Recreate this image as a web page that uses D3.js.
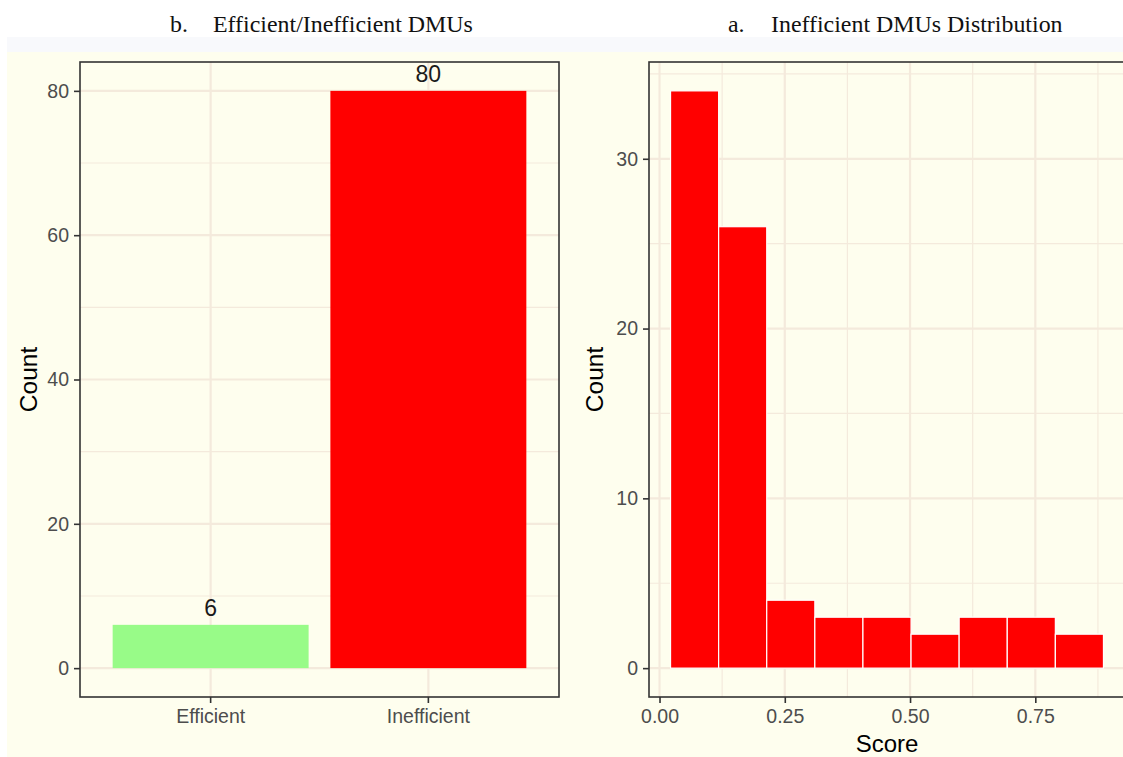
<!DOCTYPE html>
<html>
<head>
<meta charset="utf-8">
<script src="https://cdn.jsdelivr.net/npm/d3@7"></script>
<style>
  body { margin: 0; background: #fff; }
  svg { display: block; }
</style>
</head>
<body>
<div id="chart"></div>
<script>
// data
const categories = ["Efficient", "Inefficient"];
const counts = [6, 80];
const barColors = ["#98fb88", "#ff0000"];

// histogram bins (score edges) and counts
const binEdges = [0.022, 0.118, 0.214, 0.310, 0.406, 0.502, 0.598, 0.694, 0.790, 0.886];
const binCounts = [34, 26, 4, 3, 3, 2, 3, 3, 2];

const leftYTicks = [0, 20, 40, 60, 80];
const leftYMinor = [10, 30, 50, 70];
const rightYTicks = [0, 10, 20, 30];
const rightYMinor = [5, 15, 25, 35];
const scoreTicks = [0, 0.25, 0.5, 0.75];
const scoreMinor = [0.125, 0.375, 0.625, 0.875];

const width = 1123;
const height = 757;
const gridColor = "#f4eadc";
const tickColor = "#4d4d4d";
const borderColor = "#333";

var svg = d3.select("#chart").append("svg")
  .attr("width", width)
  .attr("height", height);

// background strips
svg.append("rect").attr("x", 7).attr("y", 37).attr("width", width - 7).attr("height", 16).attr("fill", "#f8f9fc");
svg.append("rect").attr("x", 7).attr("y", 52).attr("width", width - 7).attr("height", height - 52).attr("fill", "#fefeee");

// titles
var serif = "Liberation Serif, Times New Roman, serif";
var titleBits = [["b.", 170], ["Efficient/Inefficient DMUs", 213], ["a.", 728], ["Inefficient DMUs Distribution", 771]];
svg.selectAll(".title").data(titleBits).enter().append("text")
  .attr("x", d => d[1]).attr("y", 32)
  .attr("font-family", serif).attr("font-size", 23.9).attr("fill", "#111")
  .text(d => d[0]);

const plotTop = 62, plotBottom = 697;
const font = "Liberation Sans, Arial, sans-serif";

// ---------- left panel: bar chart ----------
const L = { left: 80, right: 559 };
var xBand = d3.scaleBand().domain(categories).range([L.left, L.right])
  .paddingInner(0.1).paddingOuter(0.15);
var yLeft = d3.scaleLinear().domain([-4, 84]).range([plotBottom, plotTop]);

var gl = svg.append("g");
gl.selectAll(".minor").data(leftYMinor).enter().append("line")
  .attr("x1", L.left).attr("x2", L.right)
  .attr("y1", d => yLeft(d)).attr("y2", d => yLeft(d))
  .attr("stroke", gridColor).attr("stroke-width", 1.2);
gl.selectAll(".major").data(leftYTicks).enter().append("line")
  .attr("x1", L.left).attr("x2", L.right)
  .attr("y1", d => yLeft(d)).attr("y2", d => yLeft(d))
  .attr("stroke", gridColor).attr("stroke-width", 2.2);
gl.selectAll(".vmajor").data(categories).enter().append("line")
  .attr("x1", d => xBand(d) + xBand.bandwidth() / 2).attr("x2", d => xBand(d) + xBand.bandwidth() / 2)
  .attr("y1", plotTop).attr("y2", plotBottom)
  .attr("stroke", gridColor).attr("stroke-width", 2.2);

gl.selectAll(".bar").data(counts).enter().append("rect")
  .attr("x", (d, i) => xBand(categories[i]))
  .attr("width", xBand.bandwidth())
  .attr("y", d => yLeft(d))
  .attr("height", d => yLeft(0) - yLeft(d))
  .attr("fill", (d, i) => barColors[i]);

gl.selectAll(".lbl").data(counts).enter().append("text")
  .attr("x", (d, i) => xBand(categories[i]) + xBand.bandwidth() / 2)
  .attr("y", d => yLeft(d) - 9)
  .attr("text-anchor", "middle")
  .attr("font-family", font).attr("font-size", 23).attr("fill", "#1a1a1a")
  .text(d => d);

gl.append("rect").attr("x", L.left).attr("y", plotTop)
  .attr("width", L.right - L.left).attr("height", plotBottom - plotTop)
  .attr("fill", "none").attr("stroke", borderColor).attr("stroke-width", 1.6);

var yAxisL = d3.axisLeft(yLeft).tickValues(leftYTicks).tickSize(6).tickPadding(5);
gl.append("g").attr("transform", "translate(" + L.left + ",0)").call(yAxisL);
var xAxisL = d3.axisBottom(xBand).tickSize(6).tickPadding(6);
gl.append("g").attr("transform", "translate(0," + plotBottom + ")").call(xAxisL);

gl.append("text")
  .attr("transform", "translate(28," + ((plotTop + plotBottom) / 2) + ") rotate(-90)")
  .attr("text-anchor", "middle").attr("dominant-baseline", "central")
  .attr("font-family", font).attr("font-size", 24.5).attr("fill", "#000")
  .text("Count");

// ---------- right panel: histogram ----------
const R = { left: 649, right: 1125 };
var xScore = d3.scaleLinear().domain([-0.021, 0.929]).range([R.left, R.right]);
var yRight = d3.scaleLinear().domain([-1.7, 35.7]).range([plotBottom, plotTop]);

var gr = svg.append("g");
gr.selectAll(".minor").data(rightYMinor).enter().append("line")
  .attr("x1", R.left).attr("x2", R.right)
  .attr("y1", d => yRight(d)).attr("y2", d => yRight(d))
  .attr("stroke", gridColor).attr("stroke-width", 1.2);
gr.selectAll(".vminor").data(scoreMinor).enter().append("line")
  .attr("x1", d => xScore(d)).attr("x2", d => xScore(d))
  .attr("y1", plotTop).attr("y2", plotBottom)
  .attr("stroke", gridColor).attr("stroke-width", 1.2);
gr.selectAll(".major").data(rightYTicks).enter().append("line")
  .attr("x1", R.left).attr("x2", R.right)
  .attr("y1", d => yRight(d)).attr("y2", d => yRight(d))
  .attr("stroke", gridColor).attr("stroke-width", 2.2);
gr.selectAll(".vmajor").data(scoreTicks).enter().append("line")
  .attr("x1", d => xScore(d)).attr("x2", d => xScore(d))
  .attr("y1", plotTop).attr("y2", plotBottom)
  .attr("stroke", gridColor).attr("stroke-width", 2.2);

gr.selectAll(".bin").data(binCounts).enter().append("rect")
  .attr("x", (d, i) => xScore(binEdges[i]))
  .attr("width", (d, i) => xScore(binEdges[i + 1]) - xScore(binEdges[i]))
  .attr("y", d => yRight(d))
  .attr("height", d => yRight(0) - yRight(d))
  .attr("fill", "#ff0000").attr("stroke", "#fff").attr("stroke-width", 1.2);

gr.append("rect").attr("x", R.left).attr("y", plotTop)
  .attr("width", R.right - R.left).attr("height", plotBottom - plotTop)
  .attr("fill", "none").attr("stroke", borderColor).attr("stroke-width", 1.6);

var yAxisR = d3.axisLeft(yRight).tickValues(rightYTicks).tickSize(6).tickPadding(5);
gr.append("g").attr("transform", "translate(" + R.left + ",0)").call(yAxisR);
var xAxisR = d3.axisBottom(xScore).tickValues(scoreTicks).tickFormat(d3.format(".2f")).tickSize(6).tickPadding(6);
gr.append("g").attr("transform", "translate(0," + plotBottom + ")").call(xAxisR);

gr.append("text")
  .attr("transform", "translate(594," + ((plotTop + plotBottom) / 2) + ") rotate(-90)")
  .attr("text-anchor", "middle").attr("dominant-baseline", "central")
  .attr("font-family", font).attr("font-size", 24.5).attr("fill", "#000")
  .text("Count");
gr.append("text")
  .attr("x", (xScore(binEdges[0]) + xScore(binEdges[binEdges.length - 1])) / 2)
  .attr("y", 752)
  .attr("text-anchor", "middle")
  .attr("font-family", font).attr("font-size", 24).attr("fill", "#000")
  .text("Score");

// axis styling like ggplot
svg.selectAll(".domain").remove();
svg.selectAll(".tick line").attr("stroke", borderColor).attr("stroke-width", 1.6);
svg.selectAll(".tick text").attr("font-family", font).attr("font-size", 19.5).attr("fill", tickColor);
</script>
</body>
</html>
